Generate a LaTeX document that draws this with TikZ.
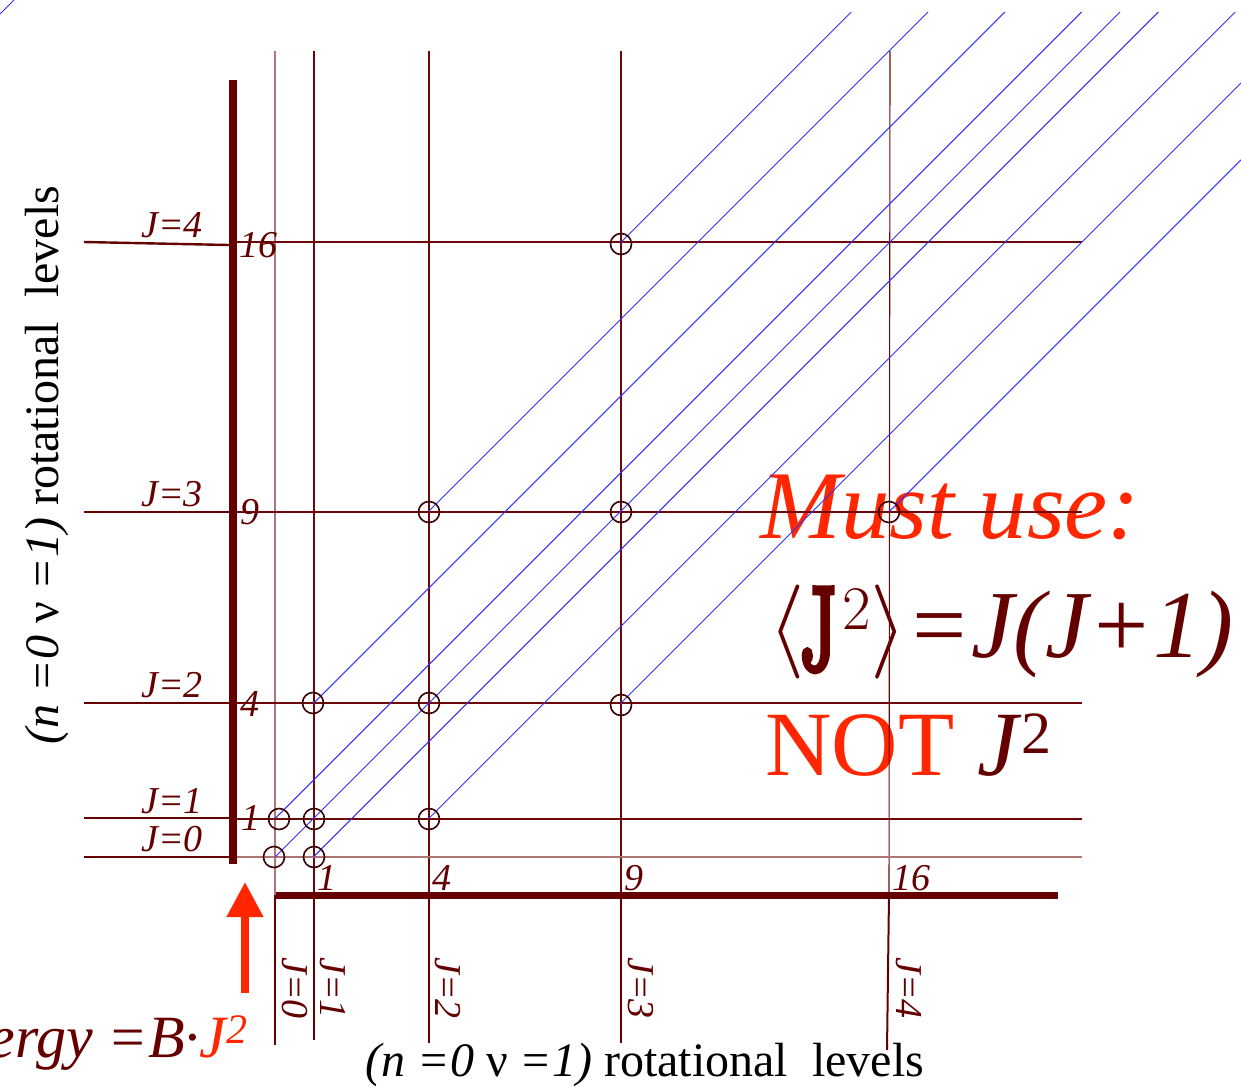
\RequirePackage{fix-cm}
\documentclass[tikz,border=0pt]{standalone}
\usepackage{fontspec}
\usepackage{graphicx}
\setmainfont{Liberation Serif}
\newfontfamily\lmfont{Latin Modern Roman}
\newfontfamily\lmbold{Latin Modern Roman}[FakeBold=6]
\usetikzlibrary{arrows.meta}
\definecolor{maroonc}{HTML}{640000}
\definecolor{redc}{HTML}{FF2600}
\definecolor{gridc}{HTML}{6E0808}
\definecolor{gridl}{HTML}{B07575}
\definecolor{bluec}{HTML}{3030FF}
\definecolor{circc}{HTML}{3A0000}
\newcommand{\cmbig}[1]{\fontsize{47}{50}\selectfont$#1$}
\tikzset{
  gridline/.style={draw=gridc, line width=0.55pt},
  gridlight/.style={draw=gridl, line width=0.6pt},
  lowline/.style={draw=maroonc, line width=1pt},
  tickline/.style={draw=maroonc, line width=1.2pt},
  diag/.style={draw=bluec, line width=0.5pt},
  dot/.style={draw=circc, line width=0.8pt, circle, minimum size=10.5pt, inner sep=0pt},
  axis/.style={draw=maroonc, line width=4pt},
  small/.style={text=maroonc, font=\fontsize{19}{20}\selectfont\itshape, inner sep=0pt},
}
\begin{document}
\begin{tikzpicture}[x=0.5pt,y=-0.5pt]
\useasboundingbox (0,0) rectangle (1241,1086);
% large texts (drawn first, lines pass over them)
\node[anchor=base west, inner sep=0pt, text=redc, font=\fontsize{48.5}{50}\selectfont\itshape] (must) at (760,538) {Must use:};
\node[anchor=base west, inner sep=0pt, text=maroonc] (brak) at (768,655)
  {\cmbig{\langle}\kern-2.5pt\raisebox{-7pt}{\scalebox{0.82}[1.25]{\fontsize{47}{50}\selectfont\lmbold J}}\kern3pt\raisebox{13pt}{\fontsize{31}{31}\selectfont\lmfont 2}\kern0pt\cmbig{\rangle}};
\node[anchor=base west, inner sep=0pt, text=maroonc, font=\fontsize{48}{50}\selectfont\itshape] (eqr) at (906,657) {=J(J+1)};
\node[anchor=base west, inner sep=0pt, font=\fontsize{46}{50}\selectfont] (notj) at (765,775)
  {\textcolor{redc}{NOT} \textcolor{maroonc}{\textit{J}\raisebox{11pt}{\fontsize{30}{30}\selectfont 2}}};
% axis titles
\node[anchor=base, inner sep=0pt, rotate=90, font=\fontsize{24}{26}\selectfont] (ytitle) at (58,465)
  {\textit{(n =0} ν \textit{=1)} rotational\ \ levels};
\node[anchor=base, inner sep=0pt, font=\fontsize{24}{26}\selectfont] (xtitle) at (645,1076)
  {\textit{(n =0} ν \textit{=1)} rotational\ \ levels};
\node[anchor=base east, inner sep=0pt, font=\fontsize{30}{32}\selectfont\itshape, text=maroonc] (energy) at (248,1057)
  {Energy =B·\textcolor{redc}{J\raisebox{7pt}{\fontsize{21}{21}\selectfont 2}}};
% vertical grid lines (upper)
\draw[gridlight] (275,51) -- (275,895);
\draw[gridline] (314,51) -- (314,895);
\draw[gridline] (429,51) -- (429,895);
\draw[gridline] (621,51) -- (621,895);
\draw[gridline] (890,51) -- (889,895);
% vertical lines below axis
\draw[lowline] (275,895) -- (275,1045);
\draw[lowline] (314,895) -- (314,1040);
\draw[lowline] (429,895) -- (429,1043);
\draw[lowline] (621,895) -- (621,1043);
\draw[lowline] (889,895) -- (887,1050);
% horizontal grid lines
\draw[gridline] (233,242) -- (1082,242);
\draw[gridline] (233,512) -- (1082,512);
\draw[gridline] (233,703) -- (1082,703);
\draw[gridline] (233,819) -- (1082,819);
\draw[gridlight] (233,857) -- (1082,857);
% left tick segments
\draw[tickline] (84,242) -- (229,245);
\draw[tickline] (84,512) -- (229,512);
\draw[tickline] (84,703) -- (229,703);
\draw[tickline] (84,818) -- (229,818);
\draw[tickline] (84,857) -- (229,857);
% diagonal blue lines
\draw[diag] (0,14) -- (14,0);
\draw[diag] (620.6,242.6) -- (851.2,12);
\draw[diag] (428.6,511.4) -- (928,12);
\draw[diag] (313.4,703.4) -- (1004.8,12);
\draw[diag] (275,818.6) -- (1081.6,12);
\draw[diag] (275,857) -- (1120,12);
\draw[diag] (313.4,857) -- (1158.4,12);
\draw[diag] (428.6,818.6) -- (1235.2,12);
\draw[diag] (620.6,703.4) -- (1241,83);
\draw[diag] (889.4,511.4) -- (1241,159.8);
% circles
\node[dot] (c00) at (274,857) {};
\node[dot] (c10) at (314,857) {};
\node[dot] (c01) at (279,819) {};
\node[dot] (c11) at (314,819) {};
\node[dot] (c21) at (429,819) {};
\node[dot] (c12) at (313,703) {};
\node[dot] (c22) at (429,703) {};
\node[dot] (c32) at (621,705) {};
\node[dot] (c23) at (429,512) {};
\node[dot] (c33) at (621,512) {};
\node[dot] (c43) at (889,512) {};
\node[dot] (c34) at (621,244) {};
% axes
\draw[axis] (233,80) -- (233,864);
\draw[draw=maroonc, line width=3.5pt] (276,895.5) -- (1058,895.5);
% red arrow
\draw[draw=redc, line width=3.8pt, -{Triangle[width=17.5pt,length=17.5pt]}] (245,993) -- (245,882);
% left labels
\node[small, anchor=base west] (l4) at (141,237) {J=4};
\node[small, anchor=base west] (l3) at (141,506) {J=3};
\node[small, anchor=base west] (l2) at (141,697) {J=2};
\node[small, anchor=base west] (l1) at (141,813) {J=1};
\node[small, anchor=base west] (l0) at (141,851) {J=0};
% axis numbers (vertical)
\node[small, anchor=base west] (n16) at (239,257) {16};
\node[small, anchor=base west] (n9) at (240,524) {9};
\node[small, anchor=base west] (n4) at (240,716) {4};
\node[small, anchor=base west] (n1) at (241,830) {1};
% axis numbers (horizontal)
\node[small, anchor=base west] (m1) at (317,890) {1};
\node[small, anchor=base west] (m4) at (432,890) {4};
\node[small, anchor=base west] (m9) at (624,890) {9};
\node[small, anchor=base west] (m16) at (892,890) {16};
% rotated bottom labels
\node[small, anchor=base west, rotate=-90] (b0) at (282,957) {J=0};
\node[small, anchor=base west, rotate=-90] (b1) at (320,957) {J=1};
\node[small, anchor=base west, rotate=-90] (b2) at (435,957) {J=2};
\node[small, anchor=base west, rotate=-90] (b3) at (628,957) {J=3};
\node[small, anchor=base west, rotate=-90] (b4) at (896,957) {J=4};
\end{tikzpicture}
\end{document}
